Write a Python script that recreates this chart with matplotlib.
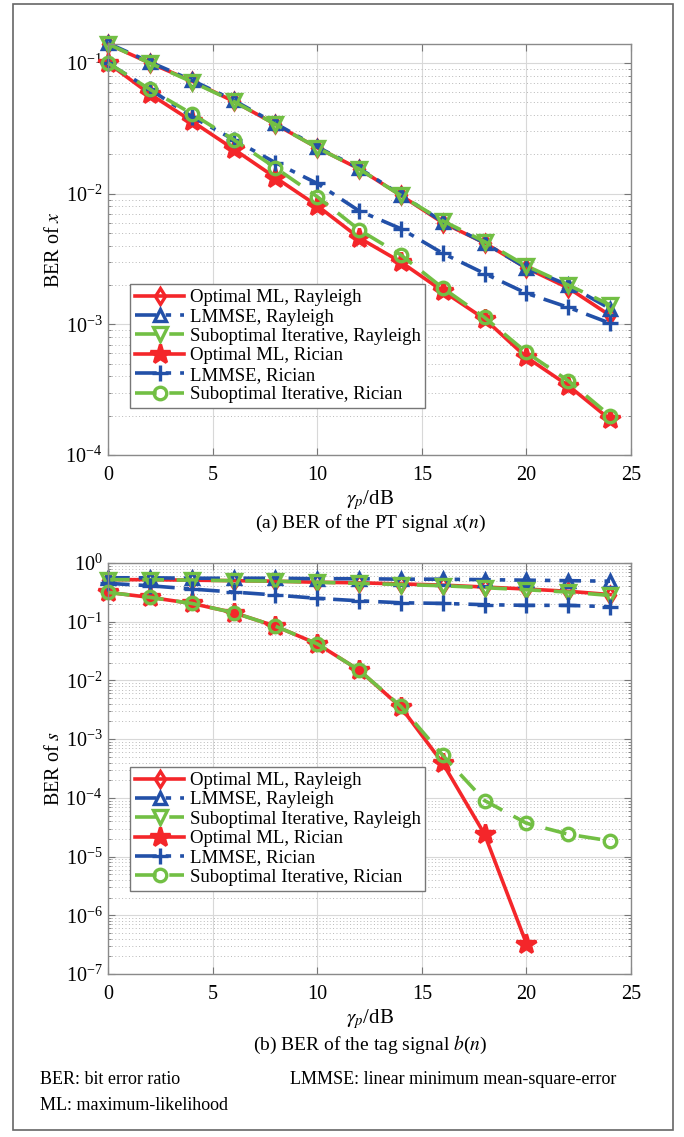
import numpy as np
import matplotlib
matplotlib.use("Agg")
import matplotlib.pyplot as plt
from matplotlib.patches import Rectangle
from matplotlib.ticker import LogLocator, NullFormatter

plt.rcParams['font.family'] = ['Liberation Serif', 'DejaVu Serif']
plt.rcParams['mathtext.fontset'] = 'stix'

# ---------------- data ----------------
snr = [0, 2, 4, 6, 8, 10, 12, 14, 16, 18, 20, 22, 24]

# (a) BER of x
x_ml_ray = [0.140, 0.100, 0.073, 0.051, 0.034, 0.0225, 0.0155, 0.0097, 0.0060, 0.0042, 0.0027, 0.0019, 0.00117]
x_lmmse_ray = [0.142, 0.102, 0.074, 0.052, 0.0345, 0.0228, 0.0157, 0.0098, 0.0061, 0.0042, 0.0027, 0.0020, 0.00132]
x_sub_ray = [0.140, 0.100, 0.072, 0.051, 0.034, 0.0225, 0.0155, 0.0097, 0.0062, 0.0043, 0.0028, 0.0020, 0.00141]
x_ml_ric = [0.100, 0.058, 0.036, 0.022, 0.0133, 0.0081, 0.0046, 0.0030, 0.0018, 0.0011, 0.00056, 0.00034, 0.000187]
x_lmmse_ric = [0.100, 0.063, 0.039, 0.026, 0.0173, 0.0120, 0.0074, 0.0054, 0.0035, 0.00245, 0.00173, 0.00135, 0.00102]
x_sub_ric = [0.100, 0.063, 0.041, 0.026, 0.0158, 0.0095, 0.0053, 0.0034, 0.0019, 0.00113, 0.00061, 0.00037, 0.00020]

# (b) BER of s
s_ml_ray = [0.52, 0.52, 0.51, 0.50, 0.49, 0.47, 0.46, 0.44, 0.42, 0.39, 0.36, 0.33, 0.29]
s_lmmse_ray = [0.56, 0.56, 0.55, 0.55, 0.55, 0.54, 0.54, 0.53, 0.53, 0.52, 0.51, 0.50, 0.49]
s_sub_ray = [0.52, 0.52, 0.51, 0.50, 0.49, 0.47, 0.45, 0.43, 0.41, 0.38, 0.35, 0.32, 0.28]
s_ml_ric_x = [0, 2, 4, 6, 8, 10, 12, 14, 16, 18, 20]
s_ml_ric = [0.316, 0.26, 0.205, 0.143, 0.084, 0.042, 0.015, 0.0035, 0.00039, 2.4e-5, 3.3e-7]
s_lmmse_ric = [0.45, 0.41, 0.36, 0.32, 0.285, 0.25, 0.227, 0.21, 0.205, 0.195, 0.19, 0.19, 0.18]
s_sub_ric = [0.316, 0.26, 0.205, 0.143, 0.084, 0.042, 0.015, 0.0036, 0.00053, 9.0e-5, 3.7e-5, 2.4e-5, 1.85e-5]

labels = ['Optimal ML, Rayleigh', 'LMMSE, Rayleigh', 'Suboptimal Iterative, Rayleigh',
          'Optimal ML, Rician', 'LMMSE, Rician', 'Suboptimal Iterative, Rician']
xticks = [0, 5, 10, 15, 20, 25]

RED = '#f4262a'
BLUE = '#2250a8'
GREEN = '#72bf44'

W, H = 684, 1137
fig = plt.figure(figsize=(W / 100, H / 100), dpi=100)


def ax_rect(l, t, r, b):
    return [l / W, 1 - b / H, (r - l) / W, (b - t) / H]


def style_axes(ax, ylim):
    ax.set_yscale('log')
    ax.set_xlim(0, 25)
    ax.set_ylim(*ylim)
    ax.set_xticks(xticks)
    ax.yaxis.set_major_locator(LogLocator(base=10, numticks=20))
    ax.yaxis.set_minor_locator(LogLocator(base=10, subs=np.arange(2, 10), numticks=20))
    ax.yaxis.set_minor_formatter(NullFormatter())
    ax.grid(True, which='major', color='#d8d8d8', lw=0.8, ls='-')
    ax.grid(True, which='minor', color='#b8b8b8', lw=0.7, ls=(0, (1, 2.5)))
    ax.tick_params(which='both', direction='in', top=True, right=True, colors='#777777',
                   labelcolor='black', labelsize=14.5)
    ax.tick_params(which='major', length=5)
    ax.tick_params(which='minor', length=2.5)
    ax.tick_params(axis='x', which='major', pad=8)
    ax.tick_params(axis='y', which='major', pad=4)
    for sp in ax.spines.values():
        sp.set_color('#8a8a8a')
        sp.set_linewidth(1.0)
    ax.set_axisbelow(True)


def draw(ax, xs_list, ys_list):
    specs = [
        dict(color=RED, ls='-', marker='d', mfc='none', ms=8),
        dict(color=BLUE, ls=(0, (6, 2.5, 1.5, 2.5)), marker='^', mfc='none', ms=9),
        dict(color=GREEN, ls=(0, (6, 3.5)), marker='v', mfc='none', ms=10),
        dict(color=RED, ls='-', marker='*', mfc=RED, ms=15),
        dict(color=BLUE, ls=(0, (6, 2.5, 1.5, 2.5)), marker='+', ms=11),
        dict(color=GREEN, ls=(0, (6, 3.5)), marker='o', mfc='none', ms=9),
    ]
    handles = []
    for xs, ys, sp, lab in zip(xs_list, ys_list, specs, labels):
        h, = ax.plot(xs, ys, lw=2.6, mew=2.4, label=lab, clip_on=False, **sp)
        handles.append(h)
    return handles


def add_legend(ax, hs, top):
    leg = ax.legend(handles=hs, loc='upper left', bbox_to_anchor=(0.043, top), fontsize=13.5,
                    frameon=True, fancybox=False, edgecolor='#777777', framealpha=1,
                    handlelength=2.6, handletextpad=0.3, labelspacing=0.12, borderpad=0.25,
                    borderaxespad=0)
    leg.get_frame().set_linewidth(1.0)


# ---- panel (a)
ax1 = fig.add_axes(ax_rect(108, 44, 631, 455))
style_axes(ax1, (1e-4, 0.14))
hs = draw(ax1, [snr] * 6, [x_ml_ray, x_lmmse_ray, x_sub_ray, x_ml_ric, x_lmmse_ric, x_sub_ric])
ax1.set_ylabel('BER of $x$', fontsize=14.5, labelpad=1)
ax1.set_xlabel(r'$\gamma_p$/dB', fontsize=15, labelpad=2)
add_legend(ax1, hs, 0.415)

# ---- panel (b)
ax2 = fig.add_axes(ax_rect(108, 563, 631, 974))
style_axes(ax2, (1e-7, 1.0))
hs2 = draw(ax2, [snr, snr, snr, s_ml_ric_x, snr, snr],
           [s_ml_ray, s_lmmse_ray, s_sub_ray, s_ml_ric, s_lmmse_ric, s_sub_ric])
ax2.set_ylabel('BER of $s$', fontsize=14.5, labelpad=1)
ax2.set_xlabel(r'$\gamma_p$/dB', fontsize=15, labelpad=2)
add_legend(ax2, hs2, 0.503)

# ---- captions & notes
def ftext(x, y, s, **kw):
    fig.text(x / W, 1 - y / H, s, va='center', **kw)

ftext(370, 523, '(a) BER of the PT signal $x$($n$)', ha='center', fontsize=14)
ftext(370, 1045, '(b) BER of the tag signal $b$($n$)', ha='center', fontsize=14)
ftext(40, 1079, 'BER: bit error ratio', ha='left', fontsize=13)
ftext(290, 1079, 'LMMSE: linear minimum mean-square-error', ha='left', fontsize=13)
ftext(40, 1106, 'ML: maximum-likelihood', ha='left', fontsize=13)

# frame
fig.patches.append(Rectangle((13 / W, 1 - 1130 / H), (673 - 13) / W, (1130 - 4) / H,
                             transform=fig.transFigure, fill=False, edgecolor='#666666', lw=1.2))

fig.savefig('out.png', dpi=100)
